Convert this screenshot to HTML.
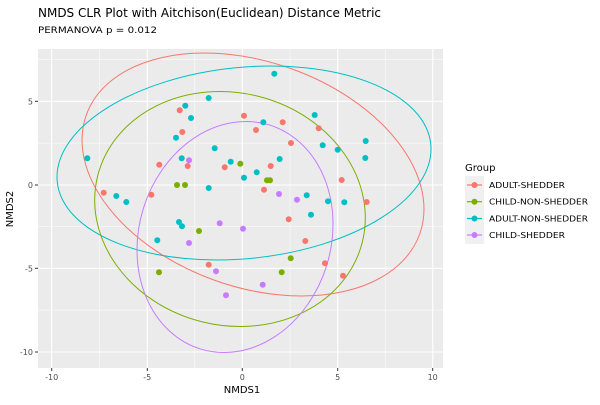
<!DOCTYPE html>
<html><head><meta charset="utf-8"><style>
body{margin:0;background:#fff;}
svg{font-family:"DejaVu Sans","Liberation Sans",sans-serif;}
</style></head><body>
<svg width="600" height="400" viewBox="0 0 600 400" xmlns="http://www.w3.org/2000/svg">
<rect width="600" height="400" fill="#fff"/>
<text x="38" y="17" font-size="12.5" fill="#000" textLength="343" lengthAdjust="spacingAndGlyphs">NMDS CLR Plot with Aitchison(Euclidean) Distance Metric</text>
<text x="38" y="33" font-size="8.5" fill="#000" textLength="119" lengthAdjust="spacingAndGlyphs">PERMANOVA p = 0.012</text>
<defs><clipPath id="c"><rect x="38" y="49" width="405" height="319"/></clipPath></defs>
<rect x="38" y="49" width="405" height="319" fill="#EBEBEB"/>
<g stroke="#fff" stroke-width="0.5">
<line x1="99.5" y1="49" x2="99.5" y2="368"/><line x1="194.8" y1="49" x2="194.8" y2="368"/><line x1="290" y1="49" x2="290" y2="368"/><line x1="385.2" y1="49" x2="385.2" y2="368"/>
<line x1="38" y1="59.6" x2="443" y2="59.6"/><line x1="38" y1="143.1" x2="443" y2="143.1"/><line x1="38" y1="226.6" x2="443" y2="226.6"/><line x1="38" y1="310.1" x2="443" y2="310.1"/>
</g>
<g stroke="#fff" stroke-width="1.1">
<line x1="51.7" y1="49" x2="51.7" y2="368"/><line x1="147.3" y1="49" x2="147.3" y2="368"/><line x1="242.3" y1="49" x2="242.3" y2="368"/><line x1="337.7" y1="49" x2="337.7" y2="368"/><line x1="432.7" y1="49" x2="432.7" y2="368"/>
<line x1="38" y1="101.3" x2="443" y2="101.3"/><line x1="38" y1="185" x2="443" y2="185"/><line x1="38" y1="268.3" x2="443" y2="268.3"/><line x1="38" y1="352" x2="443" y2="352"/>
</g>
<g clip-path="url(#c)">
<g stroke-width="1" fill="none">
<ellipse cx="253" cy="174.5" rx="177" ry="112.5" transform="rotate(19.6 253 174.5)" stroke="#F8766D"/>
<ellipse cx="244" cy="163" rx="187.7" ry="95.6" transform="rotate(-5.8 244 163)" stroke="#00BFC4"/>
<ellipse cx="230" cy="209" rx="136.4" ry="116.2" transform="rotate(14 230 209)" stroke="#7CAE00"/>
<ellipse cx="235" cy="237" rx="96" ry="117.2" transform="rotate(17 235 237)" stroke="#C77CFF"/>
</g>
<g fill="#00BFC4">
<circle cx="208.7" cy="98" r="3"/><circle cx="185.3" cy="105.7" r="3"/><circle cx="191" cy="118" r="3"/><circle cx="176" cy="137.7" r="3"/><circle cx="214.7" cy="148.3" r="3"/><circle cx="87.3" cy="158.3" r="3"/><circle cx="181.7" cy="158.3" r="3"/><circle cx="230.7" cy="161.7" r="3"/><circle cx="244" cy="177.7" r="3"/><circle cx="208.7" cy="188" r="3"/><circle cx="116.3" cy="196" r="3"/><circle cx="126.3" cy="202" r="3"/><circle cx="179" cy="222" r="3"/><circle cx="182" cy="226.3" r="3"/><circle cx="157.3" cy="240.3" r="3"/>
<circle cx="274.3" cy="73.7" r="3"/><circle cx="314.7" cy="115" r="3"/><circle cx="263.3" cy="122.3" r="3"/><circle cx="365.7" cy="141" r="3"/><circle cx="322.7" cy="145.3" r="3"/><circle cx="337.7" cy="149.7" r="3"/><circle cx="279.7" cy="159" r="3"/><circle cx="365.3" cy="158" r="3"/><circle cx="256.7" cy="172.3" r="3"/><circle cx="306.7" cy="195.3" r="3"/><circle cx="328" cy="201.3" r="3"/><circle cx="344.3" cy="202.3" r="3"/><circle cx="311" cy="214.7" r="3"/>
</g>
<g fill="#F8766D">
<circle cx="179.7" cy="110.3" r="3"/><circle cx="244" cy="115.7" r="3"/><circle cx="182.3" cy="132" r="3"/><circle cx="159.3" cy="164.7" r="3"/><circle cx="187.7" cy="166" r="3"/><circle cx="224.7" cy="167.3" r="3"/><circle cx="103.7" cy="192.7" r="3"/><circle cx="151.3" cy="194.7" r="3"/><circle cx="208.7" cy="264.7" r="3"/>
<circle cx="282.7" cy="122.3" r="3"/><circle cx="256" cy="130" r="3"/><circle cx="318.7" cy="128.3" r="3"/><circle cx="291" cy="143" r="3"/><circle cx="270.7" cy="166" r="3"/><circle cx="341.7" cy="180" r="3"/><circle cx="264" cy="189.7" r="3"/><circle cx="366.7" cy="202" r="3"/><circle cx="288.7" cy="219.3" r="3"/><circle cx="305.3" cy="241" r="3"/><circle cx="325" cy="263.3" r="3"/><circle cx="343" cy="275.7" r="3"/>
</g>
<g fill="#7CAE00">
<circle cx="240.3" cy="163.7" r="3"/><circle cx="177" cy="185" r="3"/><circle cx="185" cy="185" r="3"/><circle cx="199" cy="231" r="3"/><circle cx="159" cy="272.3" r="3"/><circle cx="267" cy="180.3" r="3"/><circle cx="270" cy="180.3" r="3"/><circle cx="290.7" cy="258.3" r="3"/><circle cx="281.7" cy="272.3" r="3"/>
</g>
<g fill="#C77CFF">
<circle cx="189" cy="160.3" r="3"/><circle cx="219.7" cy="223.3" r="3"/><circle cx="243" cy="228.7" r="3"/><circle cx="189" cy="243" r="3"/><circle cx="216" cy="271.3" r="3"/><circle cx="226" cy="295.3" r="3"/><circle cx="279" cy="194" r="3"/><circle cx="297" cy="199.7" r="3"/><circle cx="262.7" cy="284.7" r="3"/>
</g>
</g>
<g stroke="#333" stroke-width="1">
<line x1="51.7" y1="368" x2="51.7" y2="371"/><line x1="147.3" y1="368" x2="147.3" y2="371"/><line x1="242.3" y1="368" x2="242.3" y2="371"/><line x1="337.7" y1="368" x2="337.7" y2="371"/><line x1="432.7" y1="368" x2="432.7" y2="371"/>
<line x1="35" y1="101.3" x2="38" y2="101.3"/><line x1="35" y1="185" x2="38" y2="185"/><line x1="35" y1="268.3" x2="38" y2="268.3"/><line x1="35" y1="352" x2="38" y2="352"/>
</g>
<g font-size="8" fill="#4D4D4D" text-anchor="middle">
<text x="51.7" y="380">-10</text><text x="147.3" y="380">-5</text><text x="242.3" y="380">0</text><text x="337.7" y="380">5</text><text x="432.7" y="380">10</text>
</g>
<g font-size="8" fill="#4D4D4D" text-anchor="end">
<text x="33" y="104.3">5</text><text x="33" y="188">0</text><text x="33" y="271.3">-5</text><text x="33" y="355">-10</text>
</g>
<text x="242" y="393" font-size="10" text-anchor="middle">NMDS1</text>
<text x="13" y="209" font-size="10" text-anchor="middle" transform="rotate(-90 13 209)">NMDS2</text>
<text x="465" y="171" font-size="10">Group</text>
<rect x="465" y="176" width="19" height="68" fill="#F0F0F0"/>
<g stroke-width="1.2" fill="none">
<line x1="467" y1="185" x2="482" y2="185" stroke="#F8766D"/><line x1="467" y1="201.7" x2="482" y2="201.7" stroke="#7CAE00"/><line x1="467" y1="218.5" x2="482" y2="218.5" stroke="#00BFC4"/><line x1="467" y1="235" x2="482" y2="235" stroke="#C77CFF"/>
</g>
<circle cx="474.5" cy="185" r="3" fill="#F8766D"/><circle cx="474.5" cy="201.7" r="3" fill="#7CAE00"/><circle cx="474.5" cy="218.5" r="3" fill="#00BFC4"/><circle cx="474.5" cy="235" r="3" fill="#C77CFF"/>
<g font-size="7.6" fill="#000">
<text x="489" y="188" textLength="76" lengthAdjust="spacingAndGlyphs">ADULT-SHEDDER</text>
<text x="489" y="204.7" textLength="99" lengthAdjust="spacingAndGlyphs">CHILD-NON-SHEDDER</text>
<text x="489" y="221.5" textLength="99" lengthAdjust="spacingAndGlyphs">ADULT-NON-SHEDDER</text>
<text x="489" y="238" textLength="76" lengthAdjust="spacingAndGlyphs">CHILD-SHEDDER</text>
</g>
</svg>
</body></html>
